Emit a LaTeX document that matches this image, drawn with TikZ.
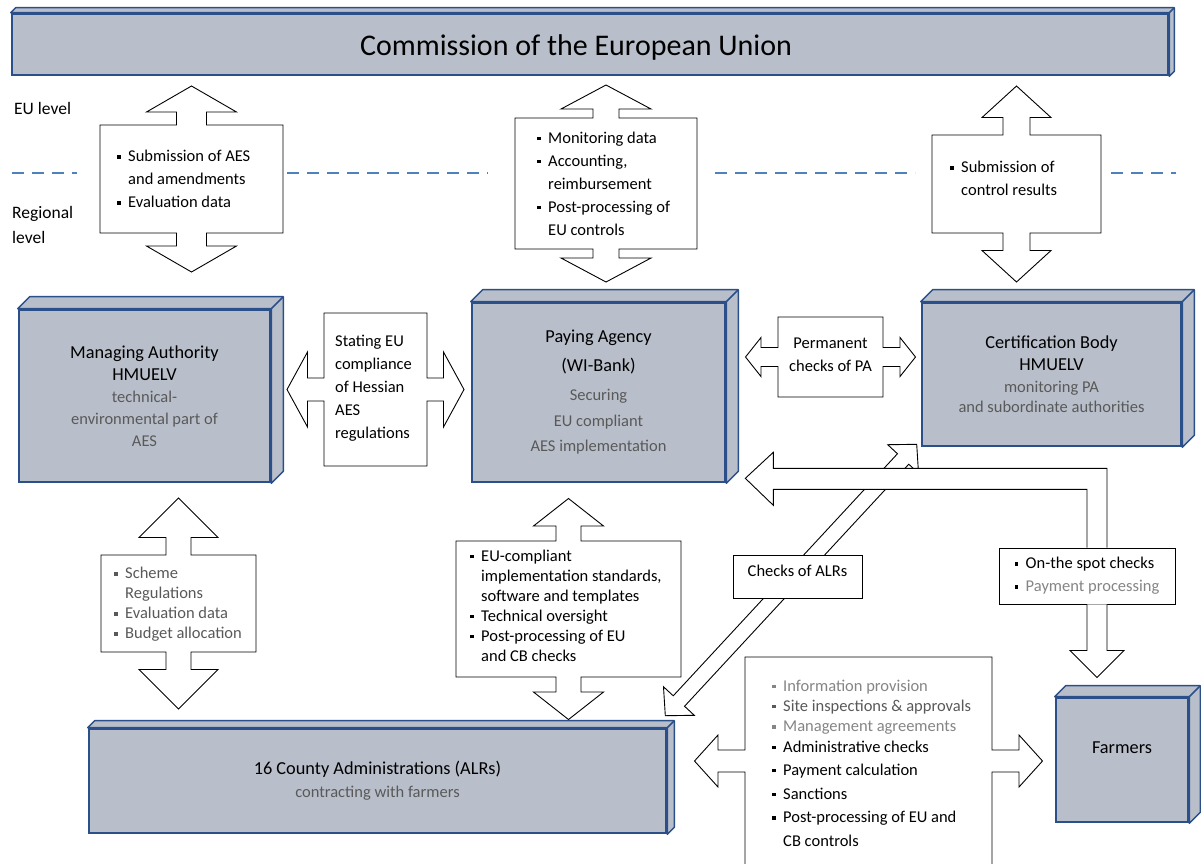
\documentclass[tikz,border=0pt]{standalone}
\usepackage{fontspec}
\setmainfont{Carlito}
\usetikzlibrary{calc}

\definecolor{boxgray}{HTML}{B9BFCA}
\definecolor{boxblue}{HTML}{2B5089}
\definecolor{dashblue}{HTML}{4F81BD}
\definecolor{txtgray}{HTML}{595959}
\definecolor{litegray}{HTML}{858585}

\newcommand\bul{\makebox[11pt][l]{\rule[3pt]{3.5pt}{3.5pt}}}
\newcommand\indt{\hspace*{11pt}}
\newcommand\subtxt[1]{{\fontsize{16.5}{22}\selectfont\color{txtgray}#1}}
\newcommand\litetxt[1]{{\color{litegray}#1}}
\newcommand\darktxt[1]{{\color{txtgray}#1}}
% top and right face of a grey box
\newcommand\bevel[2]{%
  \draw[bevelface] (#1.north west) -- ++(#2,-#2) -- ($(#1.north east)+(#2,-#2)$)
    -- ($(#1.south east)+(#2,-#2)$) -- (#1.south east) -- (#1.north east) -- cycle;
  \draw[bevelface] (#1.north east) -- ++(#2,-#2);}
% box with arrows up and down: node, shaft, head, head base, tip
\newcommand\vcall[5]{%
  \draw[blk] (#1.north west) -- ($(#1.north)+(-#2,0)$) -- ($(#1.north)+(-#2,-#4)$)
    -- ($(#1.north)+(-#3,-#4)$) -- ($(#1.north)+(0,-#5)$) -- ($(#1.north)+(#3,-#4)$)
    -- ($(#1.north)+(#2,-#4)$) -- ($(#1.north)+(#2,0)$) -- (#1.north east)
    -- (#1.south east) -- ($(#1.south)+(#2,0)$) -- ($(#1.south)+(#2,#4)$)
    -- ($(#1.south)+(#3,#4)$) -- ($(#1.south)+(0,#5)$) -- ($(#1.south)+(-#3,#4)$)
    -- ($(#1.south)+(-#2,#4)$) -- ($(#1.south)+(-#2,0)$) -- (#1.south west) -- cycle;}
% box with arrows left and right
\newcommand\hcall[5]{%
  \draw[blk] (#1.north west) -- (#1.north east) -- ($(#1.east)+(0,-#2)$) -- ($(#1.east)+(#4,-#2)$)
    -- ($(#1.east)+(#4,-#3)$) -- ($(#1.east)+(#5,0)$) -- ($(#1.east)+(#4,#3)$)
    -- ($(#1.east)+(#4,#2)$) -- ($(#1.east)+(0,#2)$) -- (#1.south east)
    -- (#1.south west) -- ($(#1.west)+(0,#2)$) -- ($(#1.west)+(-#4,#2)$)
    -- ($(#1.west)+(-#4,#3)$) -- ($(#1.west)+(-#5,0)$) -- ($(#1.west)+(-#4,-#3)$)
    -- ($(#1.west)+(-#4,-#2)$) -- ($(#1.west)+(0,-#2)$) -- cycle;}

\begin{document}
\begin{tikzpicture}[x=1pt,y=-1pt,
  box3d/.style={draw=boxblue, fill=boxgray, line width=2.6pt, align=center, inner sep=0pt,
    font=\fontsize{18.3}{22}\selectfont},
  bevelface/.style={draw=boxblue, fill=boxgray, line width=1.5pt, line join=round},
  callframe/.style={inner sep=0pt, outer sep=0pt},
  blk/.style={draw=black, fill=white, line width=0.9pt},
  txt/.style={inner sep=0pt, anchor=west, align=left, font=\fontsize{16.5}{23}\selectfont},
  lvl/.style={inner sep=0pt, anchor=west, align=left, font=\fontsize{17.5}{25}\selectfont},
  level line/.style={dashblue, line width=2.5pt, dash pattern=on 12pt off 8pt}]

\useasboundingbox (0,0) rectangle (1201,863);

% EU level / regional level
\draw[level line] (12,173) -- (77,173);
\draw[level line] (287,173) -- (488,173);
\draw[level line] (715,173) -- (915,173);
\draw[level line] (1111,173) -- (1176,173);
\node[lvl] (eu) at (14,108) {EU level};
\node[lvl] (reg) at (12,224.5) {Regional\\level};

% grey boxes
\node[box3d, minimum width=1156, minimum height=61] (comm) at (590,44.5) {};
\bevel{comm}{5}
\node[inner sep=0pt, font=\fontsize{30}{36}\selectfont] (title) at ($(comm.center)+(-14,3)$) {Commission of the European Union};
\node[box3d, minimum width=251, minimum height=172] (ma) at (144.5,396) {Managing Authority\\HMUELV\\\subtxt{technical-}\\\subtxt{environmental part of}\\\subtxt{AES}};
\bevel{ma}{12}
\node[box3d, minimum width=253, minimum height=179] (pa) at (598.5,392.5) {Paying Agency\\[7pt](WI-Bank)\\[7pt]\subtxt{Securing}\\[4pt]\subtxt{EU compliant}\\[3pt]\subtxt{AES implementation}};
\bevel{pa}{12}
\node[box3d, minimum width=259, minimum height=143] (cb) at (1051.5,374.5) {Certification Body\\HMUELV\\\subtxt{monitoring PA}\\[-2pt]\subtxt{and subordinate authorities}};
\bevel{cb}{12}
\node[box3d, minimum width=577, minimum height=104] (alr) at (377.5,781) {16 County Administrations (ALRs)\\[1pt]\subtxt{contracting with farmers}};
\bevel{alr}{7}
\node[box3d, minimum width=132, minimum height=124, text depth=24pt] (farm) at (1122,760) {Farmers};
\bevel{farm}{11}

% up and down callouts
\node[callframe, minimum width=183, minimum height=108] (aes) at (191.5,179) {};
\vcall{aes}{15}{45}{13}{39}
\node[txt] (aestxt) at ($(aes.west)+(17,0)$) {\bul Submission of AES\\\indt and amendments\\\bul Evaluation data};

\node[callframe, minimum width=182, minimum height=131] (mon) at (606,183.5) {};
\vcall{mon}{13}{45}{9}{33}
\node[txt] (montxt) at ($(mon.west)+(22,0)$) {\bul Monitoring data\\\bul Accounting,\\\indt reimbursement\\\bul Post-processing of\\\indt EU controls};

\node[callframe, minimum width=169, minimum height=98] (ctrl) at (1016.5,184) {};
\vcall{ctrl}{13.5}{34.5}{17.5}{49}
\node[txt] (ctrltxt) at ($(ctrl.west)+(18,-5.5)$) {\bul Submission of\\\indt control results};

\node[callframe, minimum width=155, minimum height=97] (sched) at (178.5,603.5) {};
\vcall{sched}{12.5}{39.5}{17.5}{57}
\node[txt, font=\fontsize{16.5}{20}\selectfont, text=txtgray] (schedtxt) at ($(sched.west)+(13,1)$) {\bul Scheme\\\indt Regulations\\\bul Evaluation data\\\bul Budget allocation};

\node[callframe, minimum width=225, minimum height=136] (eucomp) at (568.5,609) {};
\vcall{eucomp}{12.5}{35}{15}{42.5}
\node[txt, font=\fontsize{16.5}{20}\selectfont] (eutxt) at ($(eucomp.west)+(14,-3.5)$) {\bul EU-compliant\\\indt implementation standards,\\\indt software and templates\\\bul Technical oversight\\\bul Post-processing of EU\\\indt and CB checks};

% left and right callouts
\node[callframe, minimum width=103, minimum height=153] (stating) at (375.5,389.5) {};
\hcall{stating}{11.5}{37.5}{16.5}{37}
\node[txt] (statingtxt) at ($(stating.west)+(11,-1.5)$) {Stating EU\\compliance\\of Hessian\\AES\\regulations};

\node[callframe, minimum width=105, minimum height=80] (perm) at (830.5,357) {};
\hcall{perm}{9.5}{19.5}{17}{32.5}
\node[txt, anchor=center, align=center] (permtxt) at ($(perm.center)+(0,-2.5)$) {Permanent\\checks of PA};

\node[callframe, minimum width=247, minimum height=208] (tasks) at (868.5,761) {};
\hcall{tasks}{11}{26}{27}{50.5}
\node[txt, font=\fontsize{16.5}{20.3}\selectfont] (taskstxt) at ($(tasks.west)+(27,2)$) {\litetxt{\bul Information provision}\\\darktxt{\bul Site inspections \& approvals}\\\litetxt{\bul Management agreements}\\\bul Administrative checks\\[3pt]\bul Payment calculation\\[3.5pt]\bul Sanctions\\[3.5pt]\bul Post-processing of EU and\\[3pt]\indt CB controls};

% checks of the ALRs
\coordinate (d1) at ($(alr.north east)+(-2,-12)$);
\coordinate (d2) at ($(cb.south west)+(-4,-3)$);
\coordinate (h1) at ($(d1)!20pt!(d2)$);
\coordinate (h2) at ($(d2)!20pt!(d1)$);
\draw[blk] (d1) -- ($(h1)!21pt!90:(d2)$) -- ($(h1)!7.7pt!90:(d2)$) -- ($(h2)!7.7pt!-90:(d1)$)
  -- ($(h2)!21pt!-90:(d1)$) -- (d2) -- ($(h2)!21pt!90:(d1)$) -- ($(h2)!7.7pt!90:(d1)$)
  -- ($(h1)!7.7pt!-90:(d2)$) -- ($(h1)!21pt!-90:(d2)$) -- cycle;
\node[blk, minimum width=129, minimum height=43, inner sep=0pt, font=\fontsize{16.5}{20}\selectfont, text depth=12pt] (checks) at (797.5,576.5) {Checks of ALRs};

% on-the-spot checks
\node[blk, minimum width=176, minimum height=56, inner sep=0pt, align=left, font=\fontsize{16.5}{23}\selectfont] (onspot) at (1087,576) {\bul On-the spot checks\\\bul\litetxt{Payment processing}};
\coordinate (ptip) at ($(pa.south east)+(19,-5)$);
\draw[blk] (onspot.north) |- ($(ptip)+(28,11)$) -- ($(ptip)+(28,27)$) -- (ptip)
  -- ($(ptip)+(28,-26)$) -- ($(ptip)+(28,-10)$) -| ($(onspot.north)+(20,0)$);
\draw[blk] (onspot.south) -- ++(0,46) -- ++(-17,0) -- ($(onspot.south)+(10,73)$)
  -- ($(onspot.south)+(37,46)$) -- ($(onspot.south)+(20,46)$) -- ($(onspot.south)+(20,0)$);

\end{tikzpicture}
\end{document}
